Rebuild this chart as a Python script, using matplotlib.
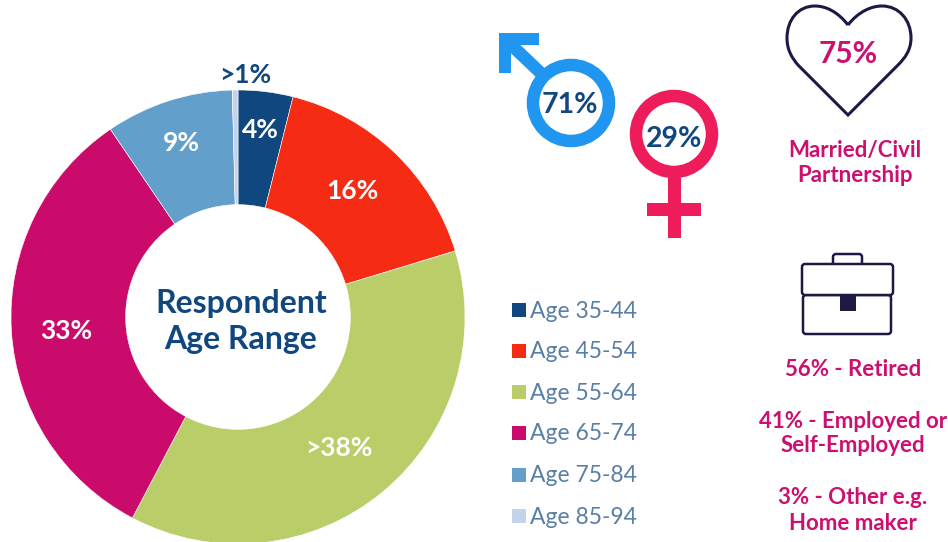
import matplotlib
matplotlib.use("Agg")
import matplotlib.pyplot as plt
from matplotlib.patches import Circle, PathPatch, Rectangle, FancyBboxPatch
from matplotlib.path import Path

plt.rcParams['font.family'] = ['Lato', 'DejaVu Sans']

# slice sizes, printed labels are separate
age_groups = ["Age 35-44", "Age 45-54", "Age 55-64", "Age 65-74", "Age 75-84", "Age 85-94"]
age_shares = [3.9, 16.4, 37.4, 32.8, 9.1, 0.4]
age_labels = ["4%", "16%", ">38%", "33%", "9%", ">1%"]
age_colors = ["#10477f", "#f52b14", "#b9cd69", "#cb0b6c", "#62a0cb", "#c3d3ec"]

label_x = [260, 352, 339, 66, 181, 245]
label_y = [130, 191, 448, 331, 143, 75]
label_colors = ["white", "white", "white", "white", "white", "#10477f"]

legend_y = [310, 351, 392, 433, 475, 516]

DARK = "#10477f"
MAGENTA = "#cc0f70"
ICON = "#1c1a45"
BLUE = "#2196f0"
PINK = "#ee1c5a"

W, H = 948, 542
fig = plt.figure(figsize=(W / 100, H / 100), dpi=100, facecolor="white")

# Donut
cx, cy, r = 238, 317, 227
ax_pie = fig.add_axes([(cx - r) / W, 1 - (cy + r) / H, 2 * r / W, 2 * r / H])
ax_pie.pie(
    age_shares,
    colors=age_colors,
    startangle=90,
    counterclock=False,
    radius=1,
    wedgeprops=dict(width=0.505, edgecolor="white", linewidth=0.4),
)
ax_pie.set_xlim(-1, 1)
ax_pie.set_ylim(-1, 1)

# Overlay in pixel coordinates
ax = fig.add_axes([0, 0, 1, 1])
ax.set_xlim(0, W)
ax.set_ylim(H, 0)
ax.axis('off')
ax.patch.set_alpha(0)

for x, y, txt, c in zip(label_x, label_y, age_labels, label_colors):
    ax.text(x, y, txt, color=c, fontsize=19, fontweight='bold', ha='center', va='center')

ax.text(241, 303, "Respondent", color=DARK, fontsize=23, fontweight='bold', ha='center', va='center')
ax.text(241, 339, "Age Range", color=DARK, fontsize=23, fontweight='bold', ha='center', va='center')

# Legend
for y, name, c in zip(legend_y, age_groups, age_colors):
    ax.add_patch(Rectangle((512, y - 7), 14, 14, facecolor=c, edgecolor='none'))
    ax.text(530, y + 1, name, color="#5a7fa5", fontsize=16.5, ha='left', va='center')

# Male symbol
ax.add_patch(Circle((571, 103), 38, facecolor='white', edgecolor=BLUE, linewidth=9))
ax.plot([505, 546], [39, 78], color=BLUE, linewidth=9, solid_capstyle='butt')
ax.add_patch(Rectangle((499, 33), 40, 12, facecolor=BLUE, edgecolor='none'))
ax.add_patch(Rectangle((499, 33), 12, 40, facecolor=BLUE, edgecolor='none'))
ax.text(570, 105, "71%", color=DARK, fontsize=20.5, fontweight='bold', ha='center', va='center')

# Female symbol
ax.add_patch(Circle((674, 134), 38, facecolor='white', edgecolor=PINK, linewidth=9))
ax.add_patch(Rectangle((668, 178), 13, 60, facecolor=PINK, edgecolor='none'))
ax.add_patch(Rectangle((647, 203), 54, 13, facecolor=PINK, edgecolor='none'))
ax.text(674, 139, "29%", color=DARK, fontsize=20.5, fontweight='bold', ha='center', va='center')

# Heart
heart = Path(
    [(848, 25), (838, 12), (826, 6), (815, 6), (798, 6), (787, 20), (787, 38),
     (787, 50), (792, 58), (798, 65), (848, 115), (898, 65), (905, 58), (911, 50),
     (911, 38), (911, 20), (899, 6), (882, 6), (871, 6), (858, 12), (848, 25)],
    [Path.MOVETO, Path.CURVE4, Path.CURVE4, Path.CURVE4, Path.CURVE4, Path.CURVE4, Path.CURVE4,
     Path.CURVE4, Path.CURVE4, Path.CURVE4, Path.LINETO, Path.LINETO, Path.CURVE4, Path.CURVE4,
     Path.CURVE4, Path.CURVE4, Path.CURVE4, Path.CURVE4, Path.CURVE4, Path.CURVE4, Path.CURVE4],
)
ax.add_patch(PathPatch(heart, facecolor='none', edgecolor=ICON, linewidth=2.2))
ax.text(848, 54, "75%", color=MAGENTA, fontsize=21.5, fontweight='bold', ha='center', va='center')

# Briefcase
def rounded(x, y, w, h, rad=3, fc='none'):
    ax.add_patch(FancyBboxPatch((x, y), w, h, boxstyle=f"round,pad=0,rounding_size={rad}",
                                facecolor=fc, edgecolor=ICON, linewidth=1.8))

rounded(833, 254, 29, 12, fc='none')
rounded(803, 295, 88, 39, fc='white')
rounded(802, 264, 91, 31, fc='white')
ax.add_patch(Rectangle((840, 296), 16, 15, facecolor=ICON, edgecolor='none'))

# Right hand text
right_text = [
    (855, 151, "Married/Civil"),
    (855, 176, "Partnership"),
    (853, 370, "56% - Retired"),
    (853, 421, "41% - Employed or"),
    (853, 446, "Self-Employed"),
    (853, 498, "3% - Other e.g."),
    (853, 523, "Home maker"),
]
for x, y, txt in right_text:
    ax.text(x, y, txt, color=MAGENTA, fontsize=16, fontweight='bold', ha='center', va='center')

plt.savefig("out.png", dpi=100)
